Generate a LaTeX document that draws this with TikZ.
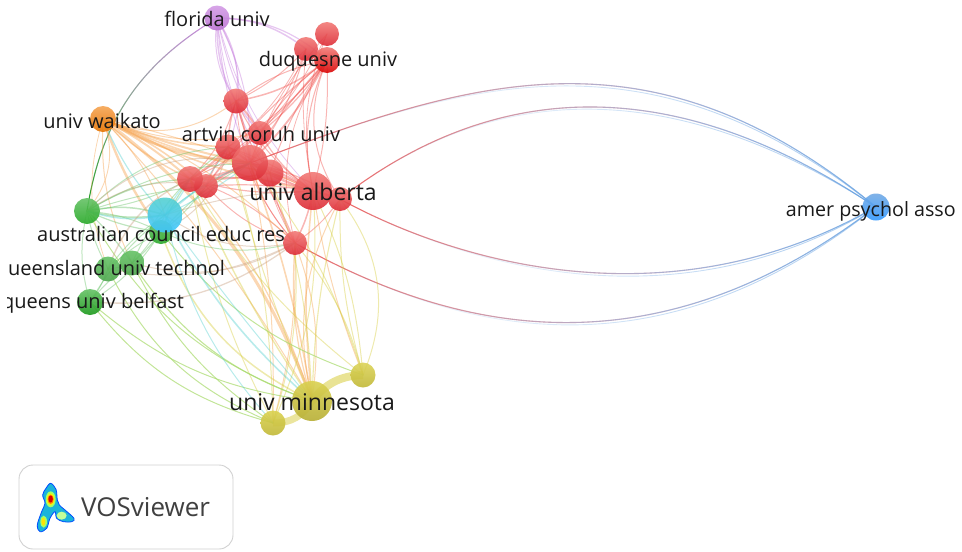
\documentclass[tikz,border=0pt]{standalone}
\usepackage{fontspec}
\setmainfont{Open Sans}
\usetikzlibrary{fadings,backgrounds}
\definecolor{rd}{HTML}{F0504C}
\definecolor{ora}{HTML}{F5A04A}
\definecolor{yl}{HTML}{D6CC3C}
\definecolor{gn}{HTML}{66C266}
\definecolor{lg}{HTML}{A8DA6C}
\definecolor{cyn}{HTML}{55D0D0}
\definecolor{pu}{HTML}{C47ADC}
\definecolor{bl}{HTML}{5B9BE0}
\definecolor{tn}{HTML}{C8A080}
\definecolor{F1}{HTML}{F27A76}
\definecolor{D1}{HTML}{DC2A35}
\tikzset{
 nd/.style={circle,inner sep=0pt,opacity=.9},
 rednd/.style={nd,top color=F1,bottom color=D1},
 edge/.style={opacity=.42,line cap=round},
 lab/.style={text=black!90,inner sep=0pt,font=\fontsize{#1}{#1}\selectfont},
}
\newcommand{\longarc}[3]{%
 \draw[rd,line width=1.1pt,opacity=.85,path fading=east] (#1.center) .. controls (#2) and (#3) .. (bluen.center);
 \draw[bl,line width=1.1pt,opacity=.8,path fading=west] (#1.center) .. controls (#2) and (#3) .. (bluen.center);
 \draw[bl,line width=.9pt,opacity=.5,path fading=west] (#1.center) .. controls (#2) and ([yshift=-6pt]#3) .. (bluen.center);
}
\begin{document}
\begin{tikzpicture}[x=1pt,y=-1pt]
\useasboundingbox (0,0) rectangle (962,552);
% nodes
\node[nd,minimum size=25pt,top color=pu!75,bottom color=pu!95!black] (fl) at (217,18) {};
\node[rednd,minimum size=24pt] (d1) at (327,34) {};
\node[rednd,minimum size=24pt] (d2) at (306,49) {};
\node[nd,minimum size=26pt,top color=F1,bottom color=red!85!black] (dq) at (327,60) {};
\node[rednd,minimum size=25pt] (r4) at (236,101) {};
\node[rednd,minimum size=24pt] (r5) at (260,133) {};
\node[rednd,minimum size=25pt] (r6) at (228,147) {};
\node[rednd,minimum size=27pt] (r8) at (270,173) {};
\node[rednd,minimum size=36pt] (r7) at (250,163) {};
\node[rednd,minimum size=24pt] (r10) at (206,186) {};
\node[rednd,minimum size=26pt] (r9) at (190,179) {};
\node[rednd,minimum size=24pt] (r11) at (340,199) {};
\node[rednd,minimum size=38pt] (al) at (313,191) {};
\node[rednd,minimum size=24pt] (r12) at (295,243) {};
\node[nd,minimum size=26pt,top color=ora!95,bottom color=orange!90!black] (or) at (103,119) {};
\node[nd,minimum size=26pt,top color=green!60!black!60,bottom color=green!60!black!85] (ga) at (87,211) {};
\node[nd,minimum size=24pt,top color=green!55!black!55,bottom color=green!60!black!85] (gc) at (161,232) {};
\node[nd,minimum size=35pt,top color=cyn,bottom color=cyan!70!blue!75] (cy) at (165,215) {};
\node[nd,minimum size=25pt,top color=gn,bottom color=green!50!black!70] (gd) at (108,269) {};
\node[nd,minimum size=25pt,top color=gn,bottom color=green!50!black!70] (ge) at (132,263) {};
\node[nd,minimum size=26pt,top color=gn,bottom color=green!55!black!90] (gf) at (90,302) {};
\node[nd,minimum size=40pt,top color=yl!90,bottom color=yl!85!black] (ym) at (312,401) {};
\node[nd,minimum size=25pt,top color=yl!90,bottom color=yl!90!black] (y2) at (273,423) {};
\node[nd,minimum size=25pt,top color=yl!85,bottom color=yl!90!black] (y3) at (363,375) {};
\node[nd,minimum size=27pt,top color=bl!85,bottom color=blue!50!cyan!80] (bluen) at (876,207) {};
\begin{scope}[on background layer]
% long arcs
\longarc{r7}{470,80}{650,20}
\longarc{r11}{500,75}{680,75}
\longarc{r11}{470,270}{680,320}
\longarc{r12}{450,330}{650,380}
% thick yellow
\draw[yl!55,line width=8pt] (ym.center) to[bend left=25] (y3.center);
\draw[yl!50,line width=7pt] (y2.center) to[bend right=30] (ym.center);
% purple
\foreach \a/\b/\c/\w in {fl/r4/-20/1,fl/r4/20/1,fl/r5/-22/1.5,fl/r6/25/1,fl/r7/14/1,fl/r8/-12/.8,fl/d2/18/1.5,fl/dq/20/1.2,fl/al/-14/.8,fl/r7/-8/1,fl/r5/-8/1}
 \draw[edge,pu,line width=\w pt] (\a.center) to[bend left=\c] (\b.center);
\draw[pu,line width=1.1pt,opacity=.9,path fading=south] (fl.center) to[bend right=25] (ga.center);
\draw[green!55!black,line width=1.1pt,opacity=.9,path fading=north] (fl.center) to[bend right=25] (ga.center);
% red cluster
\foreach \a/\b/\c/\w in {dq/r4/14/1.5,dq/r4/-12/1,dq/r5/8/1.2,dq/r5/-10/1,dq/r6/10/1,dq/r7/8/1.8,dq/r7/-6/1,dq/r8/-8/1,dq/r9/10/1,dq/r10/-8/1,dq/al/-18/1.1,dq/r11/-28/1,dq/r12/-24/.8,dq/al/8/1,
 d2/r4/10/1,d2/r5/8/1,d2/r7/10/1,d2/r6/12/.8,d2/al/-8/.8,d1/r7/-10/.8,d1/r5/8/.8,d1/al/-16/.8,
 r4/r5/6/2,r4/r6/-8/1.5,r4/r7/6/2,r4/r9/14/1,r4/r8/-12/1,r4/al/-14/1,r4/r12/-18/.8,r5/r7/6/2,r5/al/-12/1.2,r5/r9/10/1,r5/r10/-8/1,r5/r12/-12/.8,
 r6/r7/4/2,r6/r9/8/2,r6/r10/-8/1.5,r6/al/8/1,r6/r8/8/1,r7/r9/10/2.5,r7/r10/-6/2,r7/al/8/2,r7/al/-8/1.5,r7/r11/10/1.2,r7/r12/8/1.2,r8/al/6/2,r8/r9/6/1.5,r8/r11/-6/1,
 r9/al/10/1.5,r9/al/-10/1.2,r10/al/6/1.2,r10/r12/-14/1,r9/r12/12/1,al/r12/8/1.5,r11/r12/10/1,r7/r12/-12/1,al/r11/6/1.5,r8/r12/-8/1}
 \draw[edge,rd,line width=\w pt] (\a.center) to[bend left=\c] (\b.center);
% orange
\foreach \a/\b/\c/\w in {or/r4/-30/1,or/r7/-12/3,or/r7/-5/2,or/r6/-10/1.6,or/r9/6/2,or/r9/-8/1.4,or/r10/8/1.6,or/r8/-6/1.5,or/al/-8/1.6,or/al/6/1,or/r5/-16/1,or/r12/10/1,or/cy/12/1,or/gc/-8/2.4,or/ym/16/3,or/ym/6/1,or/ga/30/.9,or/gd/-18/.8,or/ge/-14/1,
 r12/ym/-10/1.2,r12/ym/14/1,r9/ym/10/1.2,r7/ym/5/1.6,al/ym/-6/1.5,al/y3/-6/1,r11/ym/-20/1,r12/y2/8/1,r7/y2/6/1}
 \draw[edge,ora,line width=\w pt] (\a.center) to[bend left=\c] (\b.center);
% yellow
\foreach \a/\b/\c/\w in {y3/r7/10/1,y3/r12/12/1,y3/r11/30/1,y3/r11/-8/1,y3/al/10/1,y2/r12/10/1,y2/r6/8/1,y2/al/14/1,ym/r11/-6/1.1,ym/r8/8/1,ym/gc/-22/1.5,ym/r9/-5/1.4,y2/r9/-8/1,ym/r6/-4/1,y3/r9/-10/1}
 \draw[edge,yl,line width=\w pt] (\a.center) to[bend right=\c] (\b.center);
% green
\foreach \a/\b/\c/\w in {ga/cy/10/1.5,ga/cy/-14/1.5,ga/r9/10/1,ga/r9/-14/1.2,ga/r10/-6/1,ga/r7/-14/1,ga/gc/8/1.2,ga/gc/-10/1,ga/gd/8/1,ga/ge/-6/1.2,ga/gf/14/1,gf/gc/12/1,gf/ge/-8/1,gf/gd/8/1,gd/ge/8/1,gd/cy/-10/1,ge/cy/10/1,ge/gc/6/1.2,gd/gc/-8/1,gf/cy/-10/1,gc/r9/-8/1.2,gc/r10/8/1,gc/r7/-10/1,ge/r6/-14/1,ga/r6/-20/1,gc/r12/18/1}
 \draw[edge,gn,line width=\w pt] (\a.center) to[bend right=\c] (\b.center);
\foreach \a/\b/\c/\w in {ga/ym/20/1,ge/ym/18/1.1,gd/y2/20/1,gf/y2/18/1,gf/ym/16/1,ge/y2/14/1,gc/y3/16/1}
 \draw[edge,lg,opacity=.7,line width=\w pt] (\a.center) to[bend right=\c] (\b.center);
% cyan / tan
\foreach \a/\b/\c/\w in {cy/r9/8/1.2,cy/r9/-8/1.2,cy/r10/8/1.2,cy/r7/10/1.2,cy/r7/-6/1,cy/r6/-12/.8,cy/or/10/1.2,cy/ym/-10/1.6,cy/y2/-14/1,cy/ym/-2/1,cy/ga/14/1.4}
 \draw[edge,cyn,line width=\w pt] (\a.center) to[bend left=\c] (\b.center);
\foreach \a/\b/\c/\w in {gf/r12/20/1.3,gd/r12/18/1,ge/r12/22/1,ga/r7/-28/1,cy/r12/22/1,gc/r6/26/1,ga/r10/-22/1,cy/al/-8/1,gd/r9/-22/1.4}
 \draw[edge,tn,line width=\w pt] (\a.center) to[bend right=\c] (\b.center);
\end{scope}
% labels
\node[lab=20] (tfl) at (217,19) {florida univ};
\node[lab=20] (tdq) at (328,61) {duquesne univ};
\node[lab=20] (tor) at (102,121) {univ waikato};
\node[lab=20] (tar) at (261,134) {artvin coruh univ};
\node[lab=23] (tal) at (313,192) {univ alberta};
\node[lab=20] (tau) at (161,234) {australian council educ res};
\node[lab=20,anchor=west] (tqu) at (8,268) {ueensland univ technol};
\node[lab=20,anchor=west] (tqb) at (2,303) {queens univ belfast};
\node[lab=23] (tym) at (312,402) {univ minnesota};
\node[lab=19.7,anchor=east] (tam) at (956,211) {amer psychol asso};
\fill[white] (0,285) rectangle (7,320);
% legend
\draw[black!18,line width=.9pt,fill=white,rounded corners=14pt] (19,465) rectangle (233,549);
\begin{scope}[shift={(0,450)},x=.3333pt,y=-.3333pt]
\draw[blue!70!cyan,line width=.8pt,fill=cyan!85!green!90] plot[smooth cycle,tension=.6] coordinates {(152,100)(168,118)(172,150)(178,165)(195,180)(222,205)(215,215)(190,215)(170,205)(165,185)(150,205)(140,235)(120,245)(112,225)(125,185)(135,160)(128,135)(138,115)};
\fill[green!60!yellow!60] (152,148) ellipse (15 and 24);
\fill[green!60!yellow!40] (185,197) ellipse (15 and 12);
\fill[green!60!yellow!60] (131,215) ellipse (10 and 18);
\fill[yellow] (152,148) ellipse (11 and 18);
\fill[yellow!85!orange] (130,215) ellipse (6 and 12);
\fill[orange] (152,148) ellipse (9 and 14);
\fill[red!85!black] (152,147) ellipse (6.5 and 10.5);
\end{scope}
\node[lab=26,text=black!75,anchor=west] (tvs) at (81,507) {VOSviewer};
\end{tikzpicture}
\end{document}
